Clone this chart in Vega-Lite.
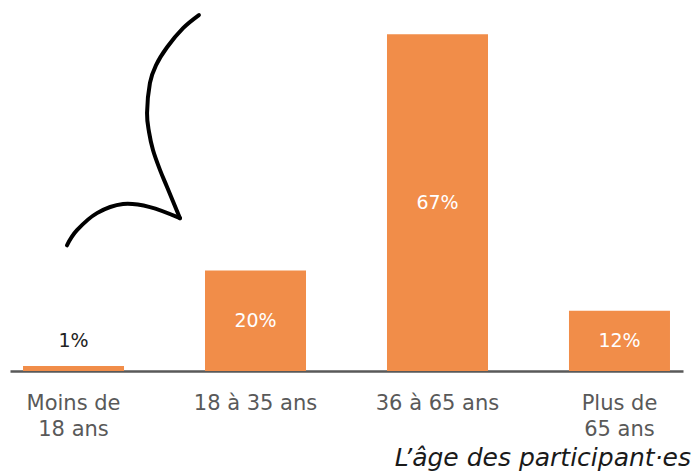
{
  "$schema": "https://vega.github.io/schema/vega-lite/v6.json",
  "autosize": {"type": "none"},
  "width": 673,
  "height": 362,
  "padding": {"left": 10, "top": 9, "right": 9, "bottom": 103},
  "background": "white",
  "config": {"view": {"stroke": null}, "font": "DejaVu Sans"},
  "title": {
    "text": "L’âge des participant·es",
    "orient": "bottom",
    "anchor": "end",
    "fontStyle": "italic",
    "fontWeight": "normal",
    "fontSize": 25,
    "color": "#1a1a1a",
    "offset": 7,
    "dx": 8,
    "font": "DejaVu Sans"
  },
  "datasets": {
    "bars": [
      {"age": "Moins de 18 ans", "pct": 1},
      {"age": "18 à 35 ans", "pct": 20},
      {"age": "36 à 65 ans", "pct": 67},
      {"age": "Plus de 65 ans", "pct": 12}
    ],
    "arrow": [
      {"seg": "a", "i": 0, "ax": 1.038, "ay": 70.8},
      {"seg": "a", "i": 1, "ax": 0.951, "ay": 68.2},
      {"seg": "a", "i": 2, "ax": 0.863, "ay": 64.4},
      {"seg": "a", "i": 3, "ax": 0.802, "ay": 60.8},
      {"seg": "a", "i": 4, "ax": 0.769, "ay": 57.3},
      {"seg": "a", "i": 5, "ax": 0.753, "ay": 51.3},
      {"seg": "a", "i": 6, "ax": 0.764, "ay": 47.5},
      {"seg": "a", "i": 7, "ax": 0.786, "ay": 43.9},
      {"seg": "a", "i": 8, "ax": 0.824, "ay": 40.0},
      {"seg": "a", "i": 9, "ax": 0.863, "ay": 36.6},
      {"seg": "a", "i": 10, "ax": 0.934, "ay": 30.4},
      {"seg": "b", "i": 0, "ax": 0.934, "ay": 30.4},
      {"seg": "b", "i": 1, "ax": 0.769, "ay": 32.6},
      {"seg": "b", "i": 2, "ax": 0.621, "ay": 33.2},
      {"seg": "b", "i": 3, "ax": 0.478, "ay": 31.4},
      {"seg": "b", "i": 4, "ax": 0.368, "ay": 28.0},
      {"seg": "b", "i": 5, "ax": 0.313, "ay": 25.0}
    ]
  },
  "layer": [
    {
      "data": {"name": "bars"},
      "transform": [
        {"calculate": "max(datum.pct / 2, 6)", "as": "mid"},
        {"calculate": "datum.pct + '%'", "as": "lab"}
      ],
      "encoding": {
        "x": {
          "field": "age", "type": "nominal", "sort": null,
          "scale": {"type": "band", "paddingInner": 0.445, "paddingOuter": 0.0715},
          "axis": {
            "title": null,
            "labelAngle": 0,
            "ticks": false,
            "domainColor": "#595959",
            "domainWidth": 2.5,
            "labelColor": "#595959",
            "labelFontSize": 21,
            "labelFont": "DejaVu Sans",
            "labelPadding": 38,
            "labelLineHeight": 26,
            "labelBaseline": "alphabetic",
            "labelExpr": "datum.label == 'Moins de 18 ans' ? ['Moins de', '18 ans'] : datum.label == 'Plus de 65 ans' ? ['Plus de', '65 ans'] : datum.label"
          }
        }
      },
      "layer": [
        {
          "mark": {"type": "bar", "color": "#F18D49"},
          "encoding": {
            "y": {
              "field": "pct", "type": "quantitative",
              "scale": {"domain": [0, 72], "nice": false, "zero": true},
              "axis": null
            }
          }
        },
        {
          "mark": {"type": "text", "fontSize": 19, "baseline": "middle", "font": "DejaVu Sans"},
          "encoding": {
            "y": {"field": "mid", "type": "quantitative", "scale": {"domain": [0, 72], "nice": false}, "axis": null},
            "text": {"field": "lab", "type": "nominal"},
            "color": {
              "condition": {"test": "datum.pct < 5", "value": "#222222"},
              "value": "white"
            }
          }
        }
      ]
    },
    {
      "data": {"name": "arrow"},
      "mark": {"type": "line", "color": "black", "strokeWidth": 4, "strokeCap": "round", "interpolate": "cardinal"},
      "encoding": {
        "x": {"field": "ax", "type": "quantitative", "scale": {"domain": [0, 3.698], "nice": false}, "axis": null},
        "y": {"field": "ay", "type": "quantitative", "scale": {"domain": [0, 72], "nice": false}, "axis": null},
        "detail": {"field": "seg"},
        "order": {"field": "i"}
      }
    }
  ],
  "resolve": {"scale": {"x": "independent"}}
}
